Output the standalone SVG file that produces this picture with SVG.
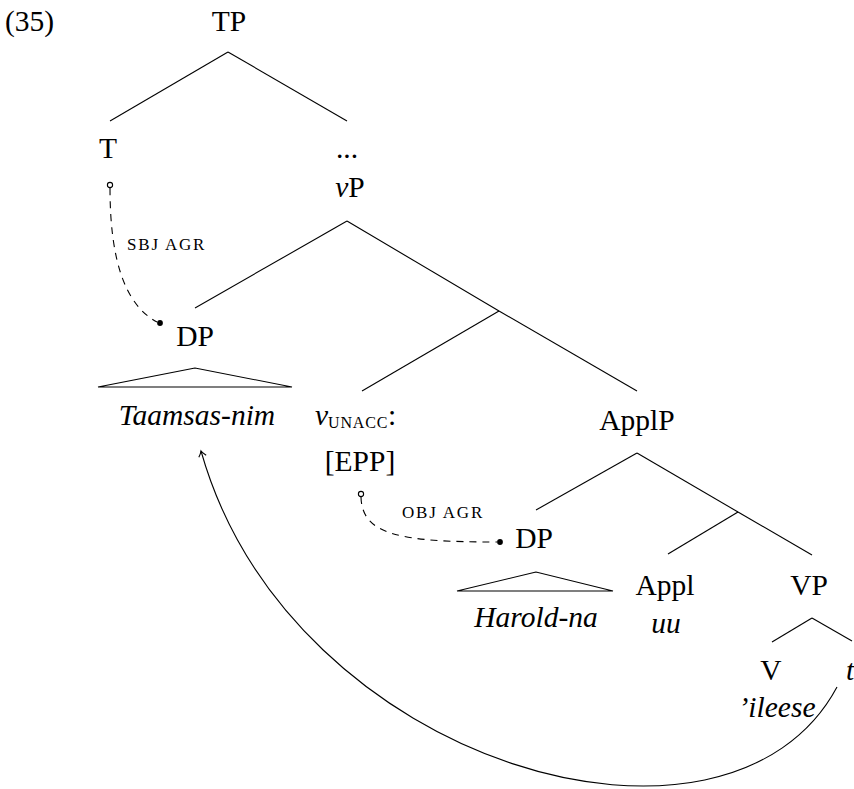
<svg xmlns="http://www.w3.org/2000/svg" width="854" height="789" viewBox="0 0 854 789" font-family="'Liberation Serif', 'DejaVu Serif', serif">
<defs>
<style>
text{font-family:"Liberation Serif","DejaVu Serif",serif;font-size:29.5px;fill:#000}
.c{text-anchor:middle}
.i{font-style:italic}
.sc{font-size:17px;letter-spacing:1.8px}
.sub{font-size:16px;letter-spacing:0.8px}
line,polygon,path{stroke:#000;stroke-width:1.1;fill:none}
.dash{stroke-dasharray:7 6}
.open{fill:#fff;stroke:#000;stroke-width:1.1}
.dot{fill:#000}
</style>
<marker id="arr" viewBox="-8 -5 10 10" markerWidth="10" markerHeight="10" refX="0" refY="0" orient="auto" markerUnits="userSpaceOnUse">
<path d="M-5.5,-3.8 Q-2,-0.8 0,0 Q-2,0.8 -5.5,3.8"/>
</marker>
</defs>
<rect width="854" height="789" fill="#fff"/>
<text x="5" y="31">(35)</text>
<g id="connectors">
<line x1="228" y1="52" x2="110" y2="121"/>
<line x1="228" y1="52" x2="347" y2="121"/>
<line x1="347" y1="221" x2="195" y2="308"/>
<line x1="347" y1="221" x2="499" y2="311"/>
<line x1="499" y1="311" x2="362" y2="391"/>
<line x1="499" y1="311" x2="637" y2="391"/>
<line x1="637" y1="453" x2="536" y2="510"/>
<line x1="637" y1="453" x2="738" y2="512"/>
<line x1="738" y1="512" x2="668" y2="554"/>
<line x1="738" y1="512" x2="812" y2="555"/>
<line x1="812" y1="618" x2="772" y2="642"/>
<line x1="812" y1="618" x2="852" y2="641"/>
<polygon points="195,368 98,387 292,387"/>
<polygon points="536,572 457,591 613,591"/>
<path class="dash" d="M110,188 C110,260 125,305 157,322"/>
<circle class="open" cx="110" cy="185" r="2.6"/>
<circle class="dot" cx="160" cy="323" r="2.9"/>
<path class="dash" d="M361,497 C362,535 400,542 497,542"/>
<circle class="open" cx="361" cy="494" r="2.6"/>
<circle class="dot" cx="500" cy="542" r="2.9"/>
<path d="M837,687 C729,889 291,768 201,451" marker-end="url(#arr)"/>
</g>
<g id="TP"><text class="c" x="229" y="31">TP</text></g>
<g id="T"><text class="c" x="108" y="158">T</text></g>
<g id="dots"><text class="c" x="347" y="158">...</text></g>
<g id="vP"><text class="c" x="350" y="197"><tspan class="i">v</tspan>P</text></g>
<g id="sbjagr"><text class="sc" x="127" y="250">SBJ AGR</text></g>
<g id="DP1"><text class="c" x="195" y="346">DP</text></g>
<g id="Taamsas"><text class="c i" x="197" y="425">Taamsas-nim</text></g>
<g id="vunacc"><text x="315" y="425"><tspan class="i">v</tspan><tspan class="sub" dy="3">UNACC</tspan><tspan dy="-3">:</tspan></text>
<text class="c" x="360" y="471">[EPP]</text></g>
<g id="ApplP"><text class="c" x="637" y="430">ApplP</text></g>
<g id="objagr"><text class="sc" x="402" y="518">OBJ AGR</text></g>
<g id="DP2"><text class="c" x="534" y="548">DP</text></g>
<g id="Harold"><text class="c i" x="536" y="627">Harold-na</text></g>
<g id="Appl"><text class="c" x="665" y="595">Appl</text><text class="c i" x="666" y="633">uu</text></g>
<g id="VP"><text class="c" x="809" y="595">VP</text></g>
<g id="V"><text class="c" x="771" y="680">V</text><text class="c i" x="777" y="717">’ileese</text></g>
<g id="t"><text class="i" x="846" y="680">t</text></g>
</svg>
